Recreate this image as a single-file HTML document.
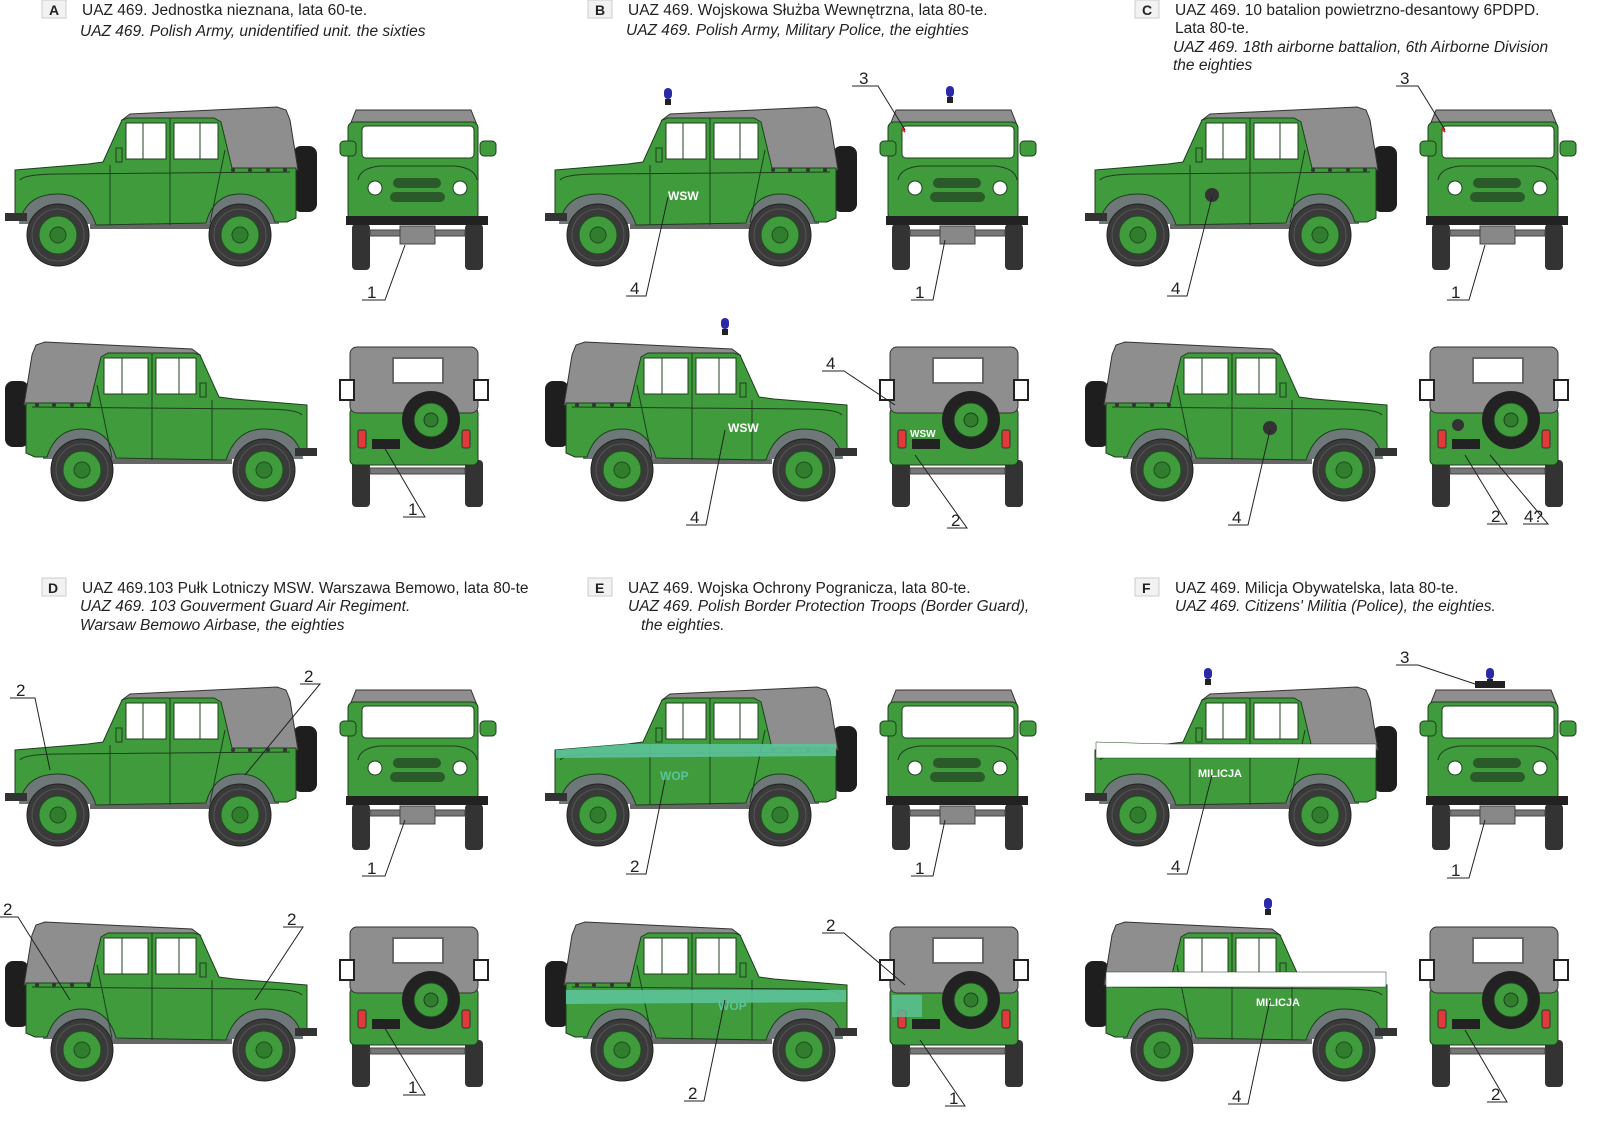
<!DOCTYPE html>
<html><head><meta charset="utf-8"><style>
html,body{margin:0;padding:0;background:#fff}
svg{display:block}
text{font-family:"Liberation Sans",Arial,sans-serif}
</style></head><body>
<svg width="1600" height="1131" viewBox="0 0 1600 1131" xmlns="http://www.w3.org/2000/svg">
<defs>
<g id="wheelS">
  <circle r="31" fill="#3a3a3a" stroke="#222"/>
  <circle r="26" fill="none" stroke="#555" stroke-width="1"/>
  <circle r="19" fill="#3f9b3c" stroke="#1f4f1f"/>
  <circle r="8" fill="#2f7d2d" stroke="#1f4f1f"/>
</g>
<g id="side">
  <g transform="translate(0,90)">
  <rect x="293" y="56" width="24" height="66" rx="8" fill="#1e1e1e"/>
  <path d="M122,30 L130,24 L277,17 L286,20 L290,30 L298,80 L228,80 L216,32 Z" fill="#8e8e8e" stroke="#333" stroke-width="1"/>
  <path d="M90,131 L270,131 L270,139 L90,139Z" fill="#666"/>
  <path d="M19,134 A39,39 0 0 1 97,134 Z" fill="#6e7878"/>
  <path d="M201,134 A39,39 0 0 1 279,134 Z" fill="#6e7878"/>
  <path d="M15,80 L88,74 L103,72 L122,30 L128,28 L214,28 L221,32 L232,78 L296,78 L296,128 L287,132 L275,132 Q266,104 240,104 Q214,104 206,133 L96,135 Q86,104 58,104 Q30,104 22,125 L15,125 Z" fill="#3f9b3c" stroke="#1d3f1d" stroke-width="1"/>
  <rect x="126" y="33" width="40" height="36" fill="#fff" stroke="#1d3f1d"/>
  <rect x="174" y="33" width="44" height="36" fill="#fff" stroke="#1d3f1d"/>
  <line x1="143" y1="33" x2="143" y2="69" stroke="#1d3f1d"/>
  <line x1="200" y1="33" x2="200" y2="69" stroke="#1d3f1d"/>
  <path d="M110,75 L110,135 M170,28 L170,135 M225,60 L210,133 M20,90 Q25,84 60,84 L290,82" fill="none" stroke="#1d3f1d" stroke-width="1"/>
  <rect x="116" y="58" width="6" height="14" fill="#3f9b3c" stroke="#1d3f1d"/>
  <rect x="5" y="123" width="22" height="8" fill="#333"/>
  <circle cx="233" cy="80" r="2" fill="#333"/><circle cx="250" cy="80" r="2" fill="#333"/><circle cx="268" cy="80" r="2" fill="#333"/><circle cx="285" cy="80" r="2" fill="#333"/>
  <use href="#wheelS" x="58" y="145"/>
  <use href="#wheelS" x="240" y="145"/>
  </g>
</g>
<g id="front">
  <g transform="translate(0,90)">
  <rect x="352" y="134" width="18" height="46" rx="4" fill="#333"/>
  <rect x="465" y="134" width="18" height="46" rx="4" fill="#333"/>
  <rect x="370" y="140" width="95" height="6" fill="#777" stroke="#444"/>
  <rect x="400" y="136" width="35" height="18" fill="#888" stroke="#444"/>
  <path d="M350,35 L356,20 L471,20 L477,35 Z" fill="#8e8e8e" stroke="#333"/>
  <rect x="348" y="32" width="130" height="98" rx="6" fill="#3f9b3c" stroke="#1d3f1d"/>
  <rect x="362" y="36" width="112" height="32" rx="4" fill="#fff" stroke="#1d3f1d"/>
  <rect x="340" y="51" width="16" height="15" rx="4" fill="#3f9b3c" stroke="#1d3f1d"/>
  <rect x="480" y="51" width="16" height="15" rx="4" fill="#3f9b3c" stroke="#1d3f1d"/>
  <path d="M358,90 Q360,78 380,76 L455,76 Q475,78 477,90" fill="none" stroke="#1d3f1d"/>
  <circle cx="375" cy="98" r="7" fill="#fff" stroke="#1d3f1d"/>
  <circle cx="460" cy="98" r="7" fill="#fff" stroke="#1d3f1d"/>
  <rect x="393" y="88" width="48" height="10" rx="5" fill="#2a5a2a"/>
  <rect x="390" y="102" width="55" height="10" rx="5" fill="#2a5a2a"/>
  <rect x="346" y="126" width="142" height="9" fill="#222"/>
  </g>
</g>
<g id="rear">
  <g transform="translate(0,90)">
  <rect x="352" y="370" width="18" height="47" rx="4" fill="#333"/>
  <rect x="465" y="370" width="18" height="47" rx="4" fill="#333"/>
  <rect x="370" y="378" width="95" height="6" fill="#777" stroke="#444"/>
  <rect x="350" y="318" width="128" height="57" rx="5" fill="#3f9b3c" stroke="#1d3f1d"/>
  <rect x="350" y="257" width="128" height="66" rx="7" fill="#8e8e8e" stroke="#333"/>
  <rect x="393" y="268" width="50" height="25" fill="#fff" stroke="#666" stroke-width="2"/>
  <rect x="340" y="290" width="14" height="20" fill="#fff" stroke="#222" stroke-width="2"/>
  <rect x="474" y="290" width="14" height="20" fill="#fff" stroke="#222" stroke-width="2"/>
  <rect x="358" y="340" width="8" height="18" rx="2" fill="#e23a3a" stroke="#333"/>
  <rect x="462" y="340" width="8" height="18" rx="2" fill="#e23a3a" stroke="#333"/>
  <circle cx="431" cy="330" r="29" fill="#222"/>
  <circle cx="431" cy="330" r="17" fill="#3f9b3c" stroke="#1d3f1d"/>
  <circle cx="431" cy="330" r="7" fill="#2f7d2d" stroke="#1d3f1d"/>
  <rect x="372" y="349" width="28" height="10" fill="#222"/>
  </g>
</g>
<g id="beacon"><rect x="-4" y="0" width="8" height="11" rx="4" fill="#2a2aa8"/><rect x="-3" y="11" width="6" height="6" fill="#222"/></g>
<g id="veh">
  <use href="#side"/>
  <g transform="translate(0,235)"><g transform="translate(322,0) scale(-1,1)"><use href="#side"/></g></g>
  <use href="#front"/>
  <use href="#rear"/>
</g>
</defs>

<g><use href="#veh"/></g>
<g transform="translate(540,0)"><use href="#veh"/>
  <use href="#beacon" x="128" y="88"/><use href="#beacon" x="185" y="318"/><use href="#beacon" x="410" y="86"/>
  <text x="128" y="200" fill="#fff" font-size="12" font-weight="bold">WSW</text>
  <text x="188" y="432" fill="#fff" font-size="12" font-weight="bold">WSW</text>
  <text x="370" y="437" fill="#fff" font-size="10" font-weight="bold">WSW</text>
  <path d="M362,128 l3,4" stroke="#e22" stroke-width="2"/>
</g>
<g transform="translate(1080,0)"><use href="#veh"/>
  <circle cx="132" cy="195" r="7" fill="#333"/><circle cx="190" cy="428" r="7" fill="#333"/><circle cx="378" cy="425" r="6" fill="#333"/>
  <path d="M362,128 l3,4" stroke="#e22" stroke-width="2"/>
</g>
<g transform="translate(0,580)"><use href="#veh"/></g>
<g transform="translate(540,580)"><use href="#veh"/>
  <path d="M16,170 L88,164 L296,164 L296,176 L16,178Z" fill="#5cc39a" opacity="0.9"/>
  <path d="M26,410 L306,410 L306,422 L26,424Z" fill="#5cc39a" opacity="0.9"/>
  <rect x="352" y="415" width="30" height="22" fill="#5cc39a" opacity="0.8"/>
  <text x="120" y="200" fill="#5cc39a" font-size="12" font-weight="bold">WOP</text>
  <text x="178" y="430" fill="#5cc39a" font-size="12" font-weight="bold">WOP</text>
</g>
<g transform="translate(1080,580)"><use href="#veh"/>
  <path d="M16,162 L88,164 L296,164 L296,178 L16,178Z" fill="#fff" stroke="#1d3f1d" stroke-width="0.5"/>
  <path d="M26,392 L306,392 L306,407 L26,407Z" fill="#fff" stroke="#1d3f1d" stroke-width="0.5"/>
  <use href="#beacon" x="128" y="88"/><use href="#beacon" x="188" y="318"/><use href="#beacon" x="410" y="88"/>
  <rect x="395" y="101" width="30" height="7" fill="#222"/>
  <text x="118" y="197" fill="#fff" font-size="11" font-weight="bold">MILICJA</text>
  <text x="176" y="426" fill="#fff" font-size="11" font-weight="bold">MILICJA</text>
</g>

<g font-size="15.5" fill="#222">
  <rect x="42" y="0" width="24" height="18" fill="#f2f2f2" stroke="#ccc"/><text x="49" y="15" font-weight="bold" font-size="14">A</text>
  <text x="82" y="15">UAZ 469. Jednostka nieznana, lata 60-te.</text>
  <text x="80" y="36" font-style="italic">UAZ 469. Polish Army, unidentified unit. the sixties</text>

  <rect x="588" y="0" width="24" height="18" fill="#f2f2f2" stroke="#ccc"/><text x="595" y="15" font-weight="bold" font-size="14">B</text>
  <text x="628" y="15">UAZ 469. Wojskowa Służba Wewnętrzna, lata 80-te.</text>
  <text x="626" y="35" font-style="italic">UAZ 469. Polish Army, Military Police, the eighties</text>

  <rect x="1135" y="0" width="24" height="18" fill="#f2f2f2" stroke="#ccc"/><text x="1142" y="15" font-weight="bold" font-size="14">C</text>
  <text x="1175" y="15">UAZ 469. 10 batalion powietrzno-desantowy 6PDPD.</text>
  <text x="1175" y="33">Lata 80-te.</text>
  <text x="1173" y="52" font-style="italic">UAZ 469. 18th airborne battalion, 6th Airborne Division</text>
  <text x="1173" y="70" font-style="italic">the eighties</text>

  <rect x="42" y="578" width="24" height="18" fill="#f2f2f2" stroke="#ccc"/><text x="48" y="593" font-weight="bold" font-size="14">D</text>
  <text x="82" y="593">UAZ 469.103 Pułk Lotniczy MSW. Warszawa Bemowo, lata 80-te</text>
  <text x="80" y="611" font-style="italic">UAZ 469. 103 Gouverment Guard Air Regiment.</text>
  <text x="80" y="630" font-style="italic">Warsaw Bemowo Airbase, the eighties</text>

  <rect x="588" y="578" width="24" height="18" fill="#f2f2f2" stroke="#ccc"/><text x="595" y="593" font-weight="bold" font-size="14">E</text>
  <text x="628" y="593">UAZ 469. Wojska Ochrony Pogranicza, lata 80-te.</text>
  <text x="628" y="611" font-style="italic">UAZ 469. Polish Border Protection Troops (Border Guard),</text>
  <text x="641" y="630" font-style="italic">the eighties.</text>

  <rect x="1135" y="578" width="24" height="18" fill="#f2f2f2" stroke="#ccc"/><text x="1142" y="593" font-weight="bold" font-size="14">F</text>
  <text x="1175" y="593">UAZ 469. Milicja Obywatelska, lata 80-te.</text>
  <text x="1175" y="611" font-style="italic">UAZ 469. Citizens' Militia (Police), the eighties.</text>
</g>

<g stroke="#222" stroke-width="1" fill="none">
  <path d="M362,300 H385 L405,245"/><path d="M403,517 H425 L380,440"/>
  <path d="M626,296 H646 L668,197"/><path d="M911,300 H933 L945,240"/><path d="M852,86 H878 L905,130"/>
  <path d="M686,525 H706 L725,430"/><path d="M822,371 H844 L895,405"/><path d="M947,528 H967 L915,455"/>
  <path d="M1167,296 H1187 L1212,197"/><path d="M1447,300 H1469 L1485,245"/><path d="M1396,86 H1418 L1445,130"/>
  <path d="M1228,525 H1248 L1270,430"/><path d="M1487,524 H1507 L1465,455"/><path d="M1523,524 H1548 L1490,455"/>
  <path d="M10,698 H35 L50,770"/><path d="M300,684 H320 L245,775"/><path d="M362,876 H385 L405,820"/>
  <path d="M0,917 H18 L70,1000"/><path d="M283,927 H303 L255,1000"/><path d="M403,1095 H425 L380,1020"/>
  <path d="M626,874 H646 L665,780"/><path d="M911,876 H933 L945,820"/><path d="M822,933 H844 L905,985"/>
  <path d="M684,1101 H704 L725,1000"/><path d="M945,1106 H965 L920,1040"/>
  <path d="M1396,665 H1418 L1478,685"/><path d="M1167,874 H1187 L1212,775"/><path d="M1447,878 H1469 L1485,820"/>
  <path d="M1228,1104 H1248 L1270,1000"/><path d="M1487,1102 H1507 L1465,1030"/>
</g>
<g font-size="17" fill="#222">
  <text x="367" y="298">1</text><text x="408" y="515">1</text>
  <text x="630" y="294">4</text><text x="915" y="298">1</text><text x="859" y="84">3</text>
  <text x="690" y="523">4</text><text x="826" y="369">4</text><text x="951" y="526">2</text>
  <text x="1171" y="294">4</text><text x="1451" y="298">1</text><text x="1400" y="84">3</text>
  <text x="1232" y="523">4</text><text x="1491" y="522">2</text><text x="1524" y="522">4?</text>
  <text x="16" y="696">2</text><text x="304" y="682">2</text><text x="367" y="874">1</text>
  <text x="3" y="915">2</text><text x="287" y="925">2</text><text x="408" y="1093">1</text>
  <text x="630" y="872">2</text><text x="915" y="874">1</text><text x="826" y="931">2</text>
  <text x="688" y="1099">2</text><text x="949" y="1104">1</text>
  <text x="1400" y="663">3</text><text x="1171" y="872">4</text><text x="1451" y="876">1</text>
  <text x="1232" y="1102">4</text><text x="1491" y="1100">2</text>
</g>
</svg>
</body></html>
